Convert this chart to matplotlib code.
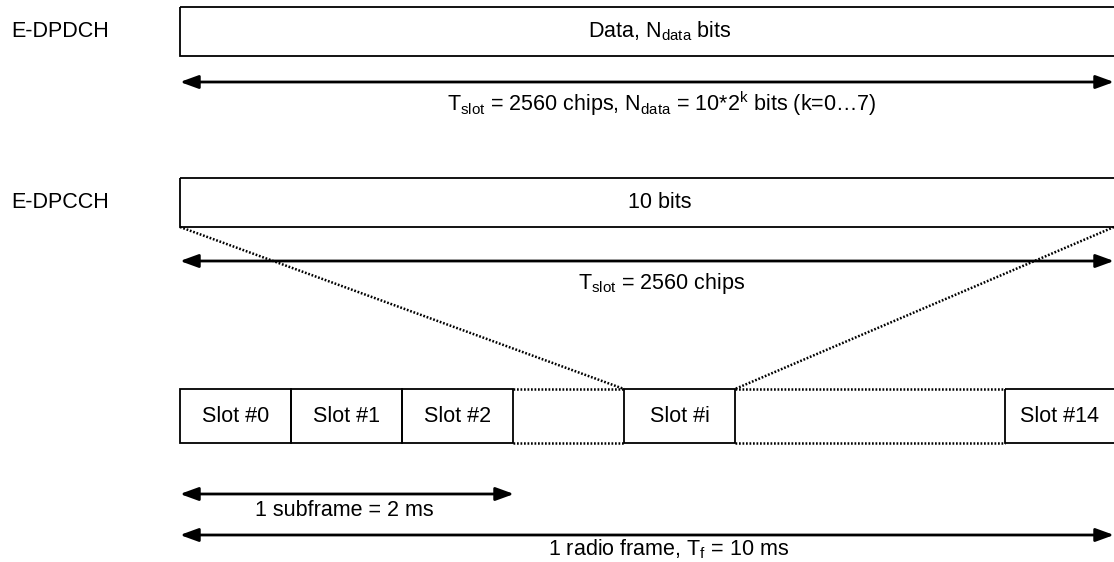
import matplotlib
matplotlib.use("Agg")
import matplotlib.pyplot as plt
from matplotlib.patches import Rectangle

plt.rcParams['font.family'] = ['Liberation Sans', 'DejaVu Sans']
plt.rcParams['mathtext.fontset'] = 'custom'
plt.rcParams['mathtext.rm'] = 'Liberation Sans'

# channel rows
channel_names = ['E-DPDCH', 'E-DPCCH']
channel_texts = [r'Data, N$_\mathrm{data}$ bits', '10 bits']
channel_top = [7, 178]
channel_bottom = [56, 227]
span_texts = [r'T$_\mathrm{slot}$ = 2560 chips, N$_\mathrm{data}$ = 10*2$^\mathrm{k}$ bits (k=0…7)',
              r'T$_\mathrm{slot}$ = 2560 chips']
span_arrow_y = [82, 261]
span_text_y = [104, 283]

# slot row
slot_labels = ['Slot #0', 'Slot #1', 'Slot #2', 'Slot #i', 'Slot #14']
slot_left = [180, 291, 402, 624, 1005]
slot_right = [291, 402, 513, 735, 1130]
gap_left = [513, 735]
gap_right = [624, 1005]
slot_top, slot_bottom = 389, 443

fs = 15.5
fig = plt.figure(figsize=(11.14, 5.62), dpi=100)
ax = fig.add_axes([0, 0, 1, 1])
ax.set_xlim(0, 1114)
ax.set_ylim(562, 0)
ax.axis('off')

def arrow(x0, x1, y):
    ax.annotate('', xy=(x1, y), xytext=(x0, y),
                arrowprops=dict(arrowstyle='<|-|>,head_length=0.55,head_width=0.2',
                                lw=2, color='black', mutation_scale=20,
                                shrinkA=0, shrinkB=0))

for i in range(2):
    ax.text(11, (channel_top[i] + channel_bottom[i]) / 2, channel_names[i],
            fontsize=fs, va='center', ha='left')
    ax.add_patch(Rectangle((180, channel_top[i]), 960, channel_bottom[i] - channel_top[i],
                           fill=False, lw=1.3, ec='black'))
    ax.text(660, (channel_top[i] + channel_bottom[i]) / 2, channel_texts[i],
            fontsize=fs, va='center', ha='center')
    arrow(180, 1114, span_arrow_y[i])
    ax.text(662, span_text_y[i], span_texts[i], fontsize=fs, va='center', ha='center')

# zoom lines from E-DPCCH slot to slot #i
dots = dict(color='black', lw=1.8, ls=(0, (0.7, 0.7)))
ax.plot([180, slot_left[3]], [channel_bottom[1], slot_top], **dots)
ax.plot([1114, slot_right[3]], [channel_bottom[1], slot_top], **dots)

for l, r, lab in zip(slot_left, slot_right, slot_labels):
    ax.add_patch(Rectangle((l, slot_top), r - l, slot_bottom - slot_top,
                           fill=False, lw=1.3, ec='black'))
    cx = (l + min(r, 1114)) / 2
    ax.text(cx, (slot_top + slot_bottom) / 2, lab, fontsize=fs, va='center', ha='center')

for l, r in zip(gap_left, gap_right):
    ax.plot([l, r], [slot_top, slot_top], **dots)
    ax.plot([l, r], [slot_bottom, slot_bottom], **dots)

arrow(180, 514, 494)
ax.text(344, 510, '1 subframe = 2 ms', fontsize=fs, va='center', ha='center')
arrow(180, 1114, 535)
ax.text(669, 549, r'1 radio frame, T$_\mathrm{f}$ = 10 ms', fontsize=fs, va='center', ha='center')

fig.savefig('out.png', dpi=100)
